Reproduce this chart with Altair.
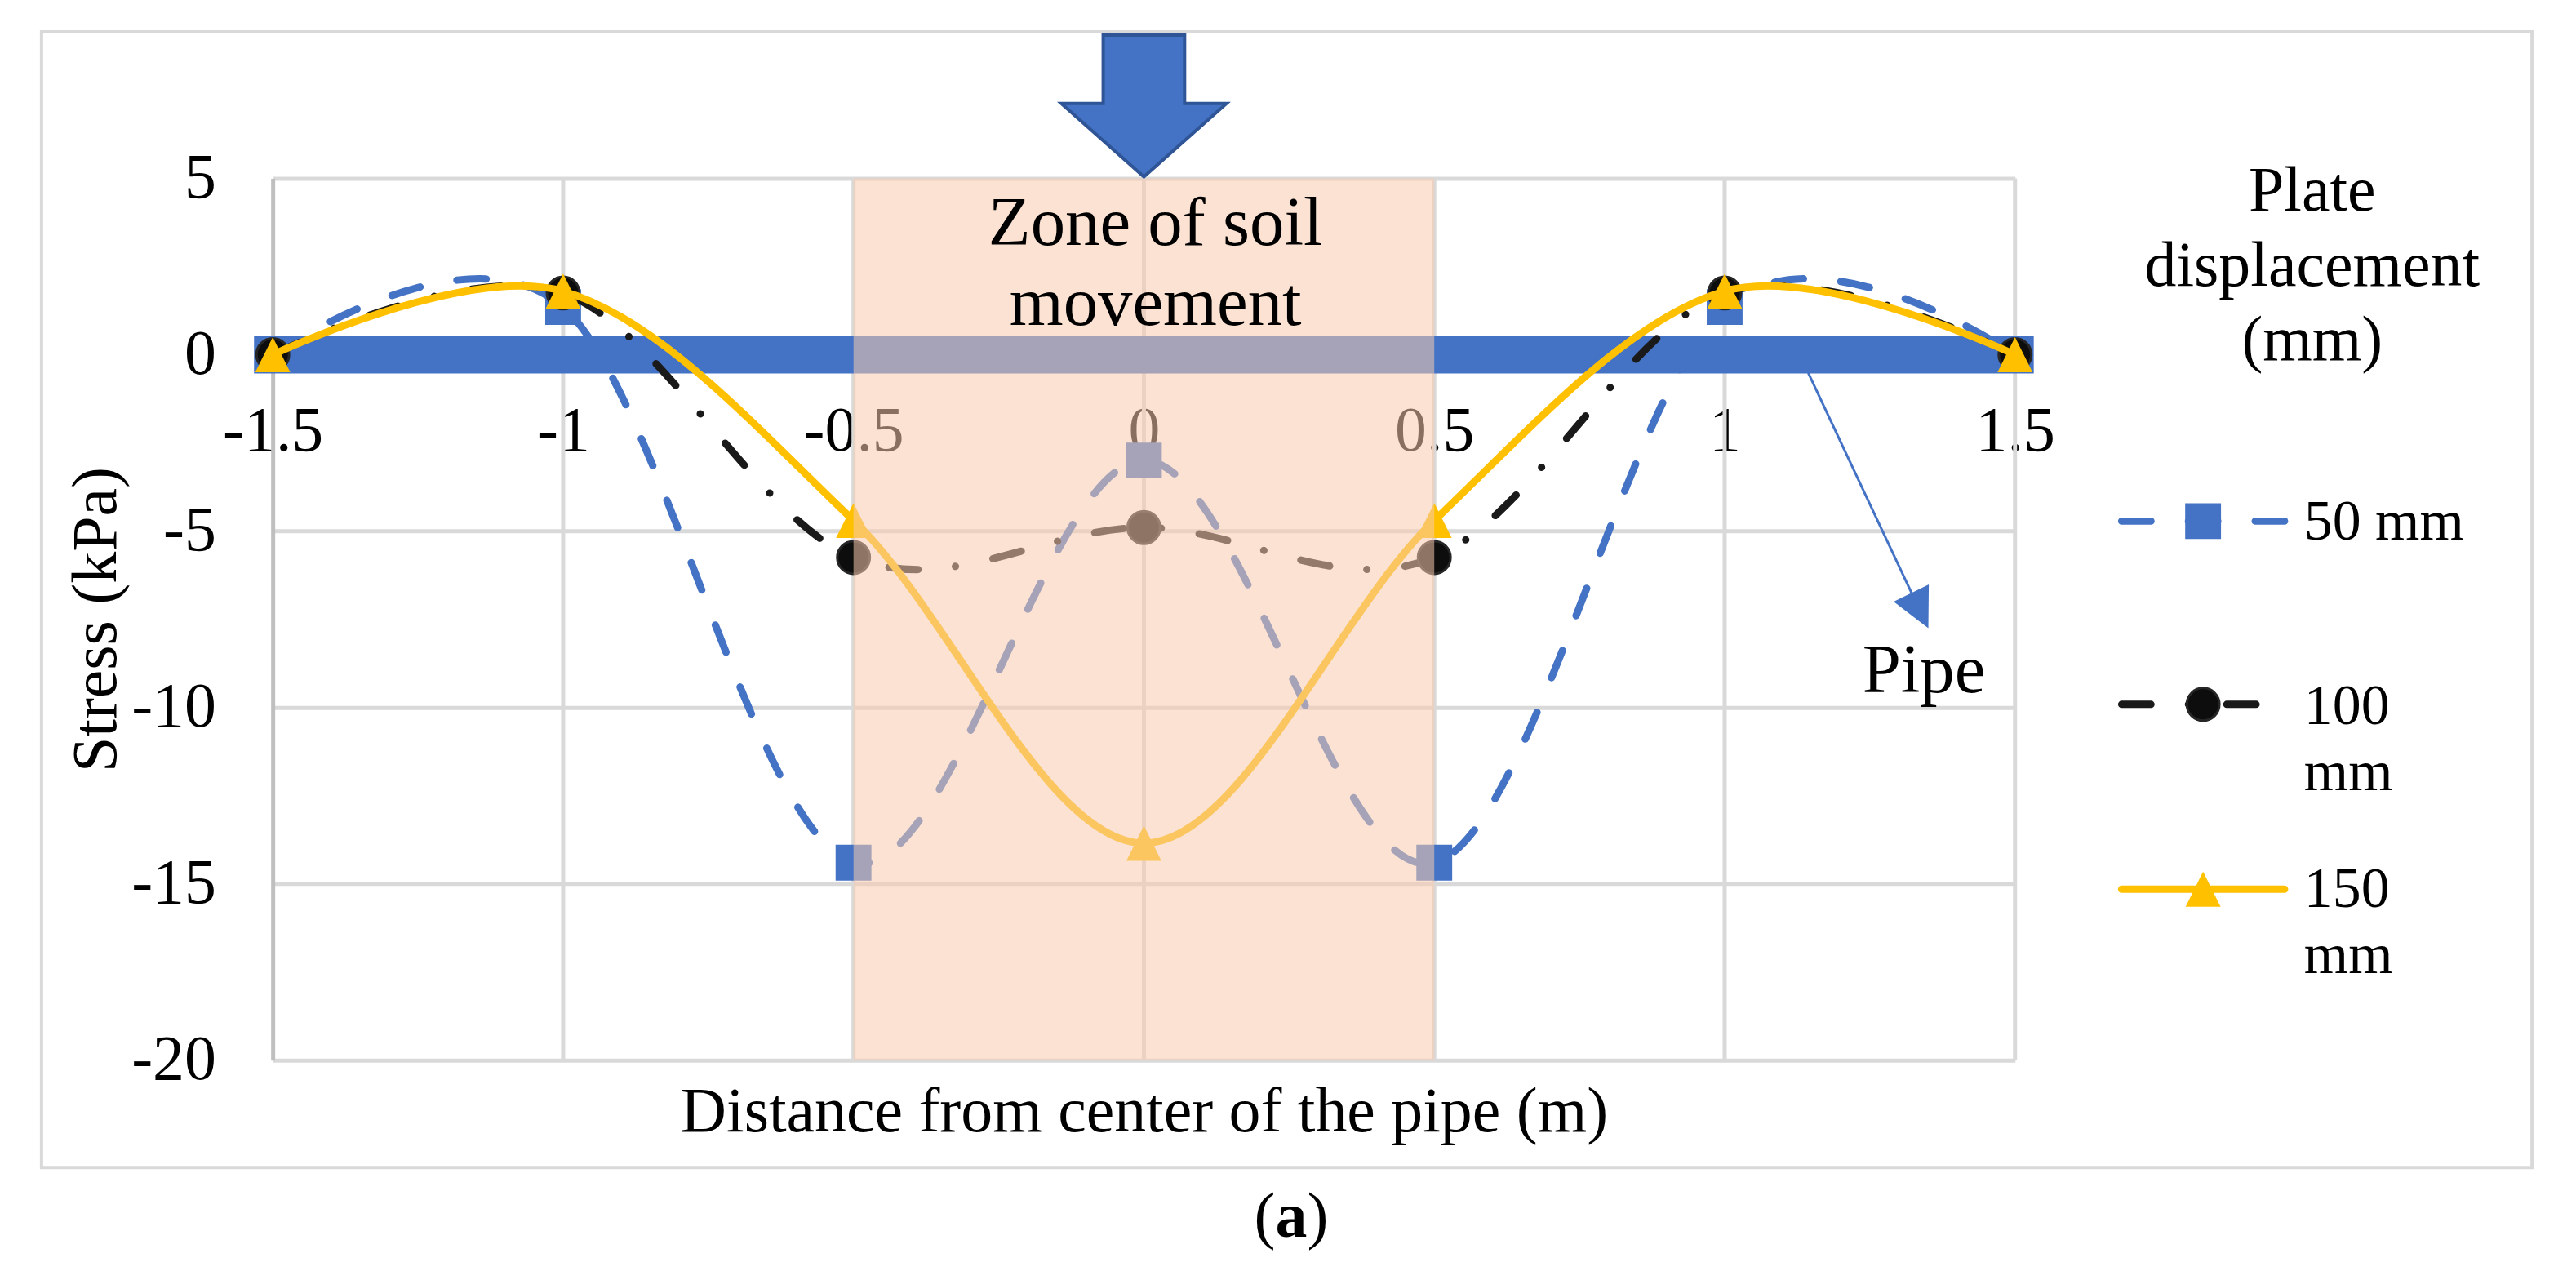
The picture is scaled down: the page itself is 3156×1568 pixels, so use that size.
import altair as alt
import pandas as pd

FONT = "Liberation Serif"
BLUE = "#4472C4"
DARK_BLUE = "#2F5597"
BLACK = "#1a1a1a"
YELLOW = "#FFC000"
PINK = "#F8CBAD"
GRID = "#d9d9d9"

# ---------------- data ----------------
X_VALUES = [-1.5, -1.0, -0.5, 0.0, 0.5, 1.0, 1.5]
S50 = [0.0, 1.35, -14.4, -3.0, -14.4, 1.35, 0.0]
S100 = [0.0, 1.75, -5.75, -4.9, -5.75, 1.75, 0.0]
S150 = [0.0, 1.8, -4.7, -13.85, -4.7, 1.8, 0.0]
SERIES = ["50 mm", "100 mm", "150 mm"]
LEGEND_LINES = [["50 mm"], ["100", "mm"], ["150", "mm"]]
X_TICKS = [-1.5, -1.0, -0.5, 0.0, 0.5, 1.0, 1.5]
Y_TICKS = [-20, -15, -10, -5, 0, 5]
PIPE_X = [-1.5, 1.5]
PIPE_Y = [0.0, 0.0]
ZONE_X = [-0.5, 0.5]
ZONE_Y = [-20, 5]

# ---------------- annotation layout (data coords) ----------------
ZONE_TEXT = ["Zone of soil", "movement"]
ZONE_TEXT_POS = (0.02, 3.107)
ARROW_POS = (0.0, 7.054)
PIPE_LINE = (1.144, -0.517, 1.3227, -6.785)
PIPE_HEAD = (1.336, -7.257)
PIPE_TEXT_POS = (1.343, -9.566)

# ---------------- scales / axes ----------------
xscale = alt.Scale(domain=[-1.5, 1.5], nice=False, zero=False)
yscale = alt.Scale(domain=[-20, 5], nice=False, zero=False)

xaxis = alt.Axis(
    values=X_TICKS, title="Distance from center of the pipe (m)", grid=False,
    domain=False, ticks=False, tickSize=0, offset=-867,
    labelExpr="'' + datum.value", labelFont=FONT, labelFontSize=78,
    labelColor="black", labelBaseline="alphabetic", labelPadding=118,
    labelAlign="center", labelFlush=False, labelOverlap=False,
    titleFont=FONT, titleFontSize=78, titleFontWeight="normal", titleColor="black",
    titleX=1070, titleY=954, titleBaseline="alphabetic", titleAlign="center",
)
yaxis = alt.Axis(
    values=Y_TICKS, title="Stress (kPa)", grid=True, gridColor=GRID, gridWidth=5,
    domain=True, domainColor="#bfbfbf", domainWidth=5, ticks=False, tickSize=0,
    labelExpr="'' + datum.value", labelFont=FONT, labelFontSize=78,
    labelColor="black", labelPadding=70, labelFlush=False, labelOverlap=False,
    titleFont=FONT, titleFontSize=78, titleFontWeight="normal", titleColor="black",
    titleAngle=270, titleX=-193, titleY=541.5, titleBaseline="alphabetic",
    titleAlign="center",
)


def xe(f):
    return alt.X(f, type="quantitative", scale=xscale, axis=xaxis)


def ye(f):
    return alt.Y(f, type="quantitative", scale=yscale, axis=yaxis)


TRI = "M0,-1L1,1L-1,1Z"
ARROW = "M-0.5,-0.87L0.5,-0.87L0.5,-0.03L1.015,-0.03L0,0.87L-1.015,-0.03L-0.5,-0.03Z"
HEAD = "M-1,-1L1,-1L0,1Z"

layers = []

# vertical grid lines
vg = pd.DataFrame({"x": [v for v in X_TICKS if v > X_TICKS[0]]})
layers.append(alt.Chart(vg).mark_rule(color=GRID, strokeWidth=5).encode(x=xe("x")))

# pipe band
pipe = pd.DataFrame({"x": PIPE_X, "y": PIPE_Y})
layers.append(alt.Chart(pipe).mark_line(color=BLUE, strokeWidth=46, strokeCap="square")
              .encode(x=xe("x"), y=ye("y")))

styles = [
    dict(vals=S50, color=BLUE, dash=[36, 46], shape="square", size=1936,
         fill=BLUE, stroke=BLUE, sw=0),
    dict(vals=S100, color=BLACK, dash=[36, 46, 0.1, 47], shape="circle", size=1600,
         fill="#0d0d0d", stroke="#262626", sw=3),
    dict(vals=S150, color=YELLOW, dash=None, shape=TRI, size=1849,
         fill=YELLOW, stroke=YELLOW, sw=0),
]

for name, st in zip(SERIES, styles):
    df = pd.DataFrame({"x": X_VALUES, "y": st["vals"], "series": name})
    lk = dict(interpolate="cardinal", tension=0, color=st["color"], strokeWidth=9,
              strokeCap="round", strokeJoin="round")
    if st["dash"]:
        lk["strokeDash"] = st["dash"]
    layers.append(alt.Chart(df).mark_line(**lk).encode(x=xe("x"), y=ye("y")))
    layers.append(alt.Chart(df).mark_point(shape=st["shape"], size=st["size"], filled=True,
                                           fill=st["fill"], stroke=st["stroke"],
                                           strokeWidth=st["sw"], opacity=1)
                  .encode(x=xe("x"), y=ye("y")))

# zone of soil movement
zone = pd.DataFrame({"x": [ZONE_X[0]], "x2": [ZONE_X[1]], "y": [ZONE_Y[0]], "y2": [ZONE_Y[1]]})
layers.append(alt.Chart(zone).mark_rect(color=PINK, opacity=0.55)
              .encode(x=xe("x"), x2="x2", y=ye("y"), y2="y2"))

zt = pd.DataFrame({"x": [ZONE_TEXT_POS[0]], "y": [ZONE_TEXT_POS[1]]})
layers.append(alt.Chart(zt).mark_text(text=ZONE_TEXT, font=FONT, fontSize=85, lineHeight=98,
                                      align="center", baseline="alphabetic", color="black")
              .encode(x=xe("x"), y=ye("y")))

# big block arrow
ar = pd.DataFrame({"x": [ARROW_POS[0]], "y": [ARROW_POS[1]]})
layers.append(alt.Chart(ar).mark_point(shape=ARROW, size=40000, filled=True, fill=BLUE,
                                       stroke=DARK_BLUE, strokeWidth=4, opacity=1)
              .encode(x=xe("x"), y=ye("y")))

# pipe pointer
pl = pd.DataFrame({"x": [PIPE_LINE[0]], "y": [PIPE_LINE[1]], "x2": [PIPE_LINE[2]], "y2": [PIPE_LINE[3]]})
layers.append(alt.Chart(pl).mark_rule(color=BLUE, strokeWidth=3)
              .encode(x=xe("x"), y=ye("y"), x2="x2", y2="y2"))
ph = pd.DataFrame({"x": [PIPE_HEAD[0]], "y": [PIPE_HEAD[1]]})
layers.append(alt.Chart(ph).mark_point(shape=HEAD, size=2304, angle=334, filled=True,
                                       color=BLUE, opacity=1)
              .encode(x=xe("x"), y=ye("y")))
pt = pd.DataFrame({"x": [PIPE_TEXT_POS[0]], "y": [PIPE_TEXT_POS[1]]})
layers.append(alt.Chart(pt).mark_text(text="Pipe", font=FONT, fontSize=85, align="center",
                                      baseline="alphabetic", color="black")
              .encode(x=xe("x"), y=ye("y")))

# ---------------- legend (pixel layout) ----------------
one = pd.DataFrame({"k": [0]})
layers.append(alt.Chart(one).mark_text(text=["Plate", "displacement", "(mm)"], font=FONT,
                                       fontSize=78, lineHeight=91.5, align="center",
                                       baseline="alphabetic", color="black")
              .encode(x=alt.value(2505), y=alt.value(40)))
LEG_Y = [421, 646, 873]
LEG_TEXT_Y = [444, 670, 895]
for lines, st, ly, ty in zip(LEGEND_LINES, styles, LEG_Y, LEG_TEXT_Y):
    rk = dict(color=st["color"], strokeWidth=9, strokeCap="round")
    if st["dash"]:
        rk["strokeDash"] = st["dash"]
    layers.append(alt.Chart(one).mark_rule(**rk)
                  .encode(x=alt.value(2271), x2=alt.value(2471), y=alt.value(ly)))
    layers.append(alt.Chart(one).mark_point(shape=st["shape"], size=st["size"], filled=True,
                                            fill=st["fill"], stroke=st["stroke"],
                                            strokeWidth=st["sw"], opacity=1)
                  .encode(x=alt.value(2371), y=alt.value(ly)))
    layers.append(alt.Chart(one).mark_text(text=lines if len(lines) > 1 else lines[0],
                                           font=FONT, fontSize=70, lineHeight=81,
                                           align="left", baseline="alphabetic", color="black")
                  .encode(x=alt.value(2495), y=alt.value(ty)))

# outer frame
layers.append(alt.Chart(one).mark_rect(fillOpacity=0, stroke=GRID, strokeWidth=4)
              .encode(x=alt.value(-284), x2=alt.value(2775), y=alt.value(-180), y2=alt.value(1215)))

# caption (a)
layers.append(alt.Chart(one).mark_text(text="(", font=FONT, fontSize=78, align="right",
                                       baseline="alphabetic", color="black")
              .encode(x=alt.value(1231.5), y=alt.value(1300)))
layers.append(alt.Chart(one).mark_text(text="a", font=FONT, fontSize=78, fontWeight="bold",
                                       align="center", baseline="alphabetic", color="black")
              .encode(x=alt.value(1251), y=alt.value(1300)))
layers.append(alt.Chart(one).mark_text(text=")", font=FONT, fontSize=78, align="left",
                                       baseline="alphabetic", color="black")
              .encode(x=alt.value(1270.5), y=alt.value(1300)))

chart = (
    alt.layer(*layers)
    .properties(width=2140, height=1083,
                autosize=alt.AutoSizeParams(type="none"),
                padding={"left": 327, "top": 209, "right": 681, "bottom": 268})
    .configure_view(strokeWidth=0)
    .configure(background="white")
)

chart.save("out.html", embed_options={"renderer": "svg", "actions": False})
